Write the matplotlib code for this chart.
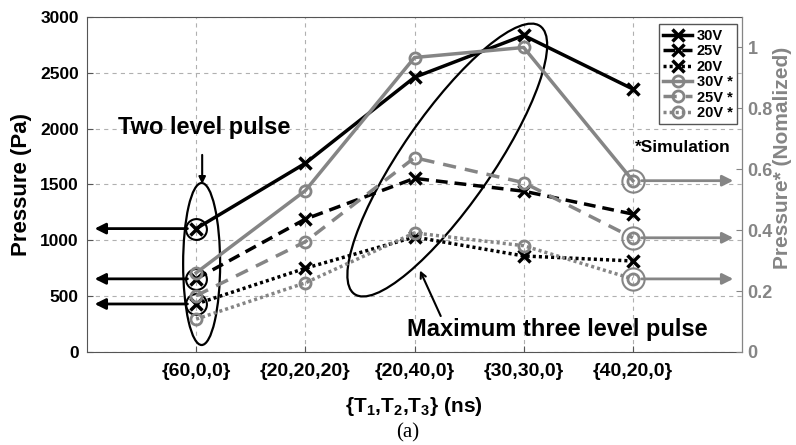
import matplotlib
matplotlib.use("Agg")
import matplotlib.pyplot as plt
from matplotlib.patches import Ellipse
from matplotlib.transforms import ScaledTranslation

plt.rcParams['font.family'] = ['Liberation Sans', 'DejaVu Sans']
plt.rcParams['font.weight'] = 'bold'
plt.rcParams['mathtext.fontset'] = 'custom'
plt.rcParams['mathtext.rm'] = 'Liberation Sans:bold'
plt.rcParams['mathtext.default'] = 'rm'
plt.rcParams['lines.scale_dashes'] = False

# Pulse timing configurations {T1,T2,T3} in ns
categories = ['{60,0,0}', '{20,20,20}', '{20,40,0}', '{30,30,0}', '{40,20,0}']

# Measured pressure (Pa)
meas_30v = [1105, 1690, 2460, 2835, 2355]
meas_25v = [655, 1190, 1555, 1440, 1235]
meas_20v = [430, 750, 1030, 860, 815]

# Simulated pressure (normalized)
sim_30v = [0.26, 0.53, 0.967, 1.0, 0.5625]
sim_25v = [0.185, 0.362, 0.638, 0.556, 0.375]
sim_20v = [0.108, 0.227, 0.391, 0.349, 0.24]

left_ticks = [0, 500, 1000, 1500, 2000, 2500, 3000]
right_ticks = [0, 0.2, 0.4, 0.6, 0.8, 1.0]
right_tick_labels = ['0', '0.2', '0.4', '0.6', '0.8', '1']

GRAY = '#858585'
SPINE = '#555555'
x = list(range(len(categories)))

W, H = 796, 445
fig = plt.figure(figsize=(W / 100, H / 100), dpi=100)
ax = fig.add_axes([0.1093, 0.2090, 0.8229, 0.7528])
ax2 = ax.twinx()

# measured series
l30, = ax.plot(x, meas_30v, color='k', lw=2.5, marker='x', ms=8, mew=2.5, label='30V')
l25, = ax.plot(x, meas_25v, color='k', lw=2.5, marker='x', ms=8, mew=2.5,
               dashes=(8.5, 5), label='25V')
l20, = ax.plot(x, meas_20v, color='k', lw=2.5, marker='x', ms=8, mew=2.5,
               dashes=(2.2, 2.2), label='20V')

# simulated series
s30, = ax2.plot(x, sim_30v, color=GRAY, lw=2.5, marker='o', ms=8, mew=2, mfc='none',
                label='30V *')
s25, = ax2.plot(x, sim_25v, color=GRAY, lw=2.5, marker='o', ms=8, mew=2, mfc='none',
                dashes=(9.5, 6.5), label='25V *')
s20, = ax2.plot(x, sim_20v, color=GRAY, lw=2.5, marker='o', ms=8, mew=2, mfc='none',
                dashes=(2.2, 2.2), label='20V *')

ax.set_xlim(-1, 5)
ax.set_ylim(0, 3000)
ax2.set_ylim(0, 1.1)

ax.set_xticks(x)
ax.set_xticklabels(categories)
ax.set_yticks(left_ticks)
ax2.set_yticks(right_ticks)
ax2.set_yticklabels(right_tick_labels)

ax.grid(True, color='#b0b0b0', lw=0.8, dashes=(3, 3))
ax.set_axisbelow(True)

ax.tick_params(axis='both', direction='in', length=4, colors=SPINE,
               labelcolor='k', pad=6)
ax.tick_params(axis='y', labelsize=12.5)
ax.tick_params(axis='x', labelsize=14, pad=8)
ax2.tick_params(axis='y', direction='in', length=4, labelsize=13, colors=GRAY,
                labelcolor=GRAY, pad=4)
for s in ax.spines.values():
    s.set_color(SPINE)
for name, s in ax2.spines.items():
    s.set_visible(name == 'right')
ax2.spines['right'].set_color(GRAY)

# axis titles
fig.text(22 / W, 1 - 185 / H, 'Pressure (Pa)', fontsize=16, fontweight='bold',
         rotation=90, ha='center', va='center')
fig.text(782 / W, 1 - 158 / H, 'Pressure* (Nomalized)', fontsize=15, fontweight='bold',
         color=GRAY, rotation=90, ha='center', va='center')
fig.text(414 / W, 1 - 407 / H, '{T$_1$,T$_2$,T$_3$} (ns)', fontsize=15,
         fontweight='bold', ha='center', va='center')
fig.text(408 / W, 1 - 433 / H, '(a)', fontsize=15, fontweight='normal',
         family=['Liberation Serif'], ha='center', va='center')

# highlight circles around the two-level-pulse measurements
for series in (meas_30v, meas_25v, meas_20v):
    ax.plot([x[0]], [series[0]], 'o', ms=15, mfc='none', mec='k', mew=1.5)
    ax.annotate('', xy=(-0.93, series[0]), xytext=(-0.08, series[0]),
                arrowprops=dict(arrowstyle='-|>', lw=2, color='k', mutation_scale=16,
                                shrinkA=0, shrinkB=0))

# highlight circles and arrows for simulation results at the last configuration
for series in (sim_30v, sim_25v, sim_20v):
    ax2.plot([x[-1]], [series[-1]], 'o', ms=16, mfc='none', mec=GRAY, mew=1.5)
    ax2.annotate('', xy=(4.92, series[-1]), xytext=(4.08, series[-1]),
                 arrowprops=dict(arrowstyle='-|>', lw=2, color=GRAY, mutation_scale=16,
                                 shrinkA=0, shrinkB=0))

# ellipse around the two-level pulse points
left_ell = Ellipse((0, 0), width=0.37, height=1.62, angle=0, fill=False, lw=1.6,
                   ec='k', transform=fig.dpi_scale_trans +
                   ScaledTranslation(0.05, 788, ax.transData))
ax.add_patch(left_ell)

# tilted ellipse around the three-level pulse maxima
mid_ell = Ellipse((0, 0), width=3.26, height=0.9, angle=55.3, fill=False, lw=1.6,
                  ec='k', transform=fig.dpi_scale_trans +
                  ScaledTranslation(2.3, 1719, ax.transData))
ax.add_patch(mid_ell)

ax.text(0.07, 2014, 'Two level pulse', fontsize=17, fontweight='bold',
        ha='center', va='center')
ax.annotate('', xy=(0.055, 1505), xytext=(0.055, 1765),
            arrowprops=dict(arrowstyle='-|>', lw=1.5, color='k', mutation_scale=10,
                            shrinkA=0, shrinkB=0))

ax.text(3.31, 197, 'Maximum three level pulse', fontsize=17, fontweight='bold',
        ha='center', va='center')
ax.annotate('', xy=(2.05, 730), xytext=(2.24, 322),
            arrowprops=dict(arrowstyle='->', lw=1.5, color='k', mutation_scale=10,
                            shrinkA=0, shrinkB=0))

ax.text(4.46, 1835, '*Simulation', fontsize=12.5, fontweight='bold',
        ha='center', va='center')

leg = ax2.legend(handles=[l30, l25, l20, s30, s25, s20], loc='upper right',
                 bbox_to_anchor=(0.992, 0.978), borderaxespad=0,
                 prop={'weight': 'bold', 'size': 10.5}, frameon=True, fancybox=False,
                 edgecolor=SPINE, framealpha=1, handlelength=2.0, labelspacing=0.1,
                 handletextpad=0.3, borderpad=0.3)
leg.get_frame().set_linewidth(1.0)

fig.savefig('out.png', dpi=100)
